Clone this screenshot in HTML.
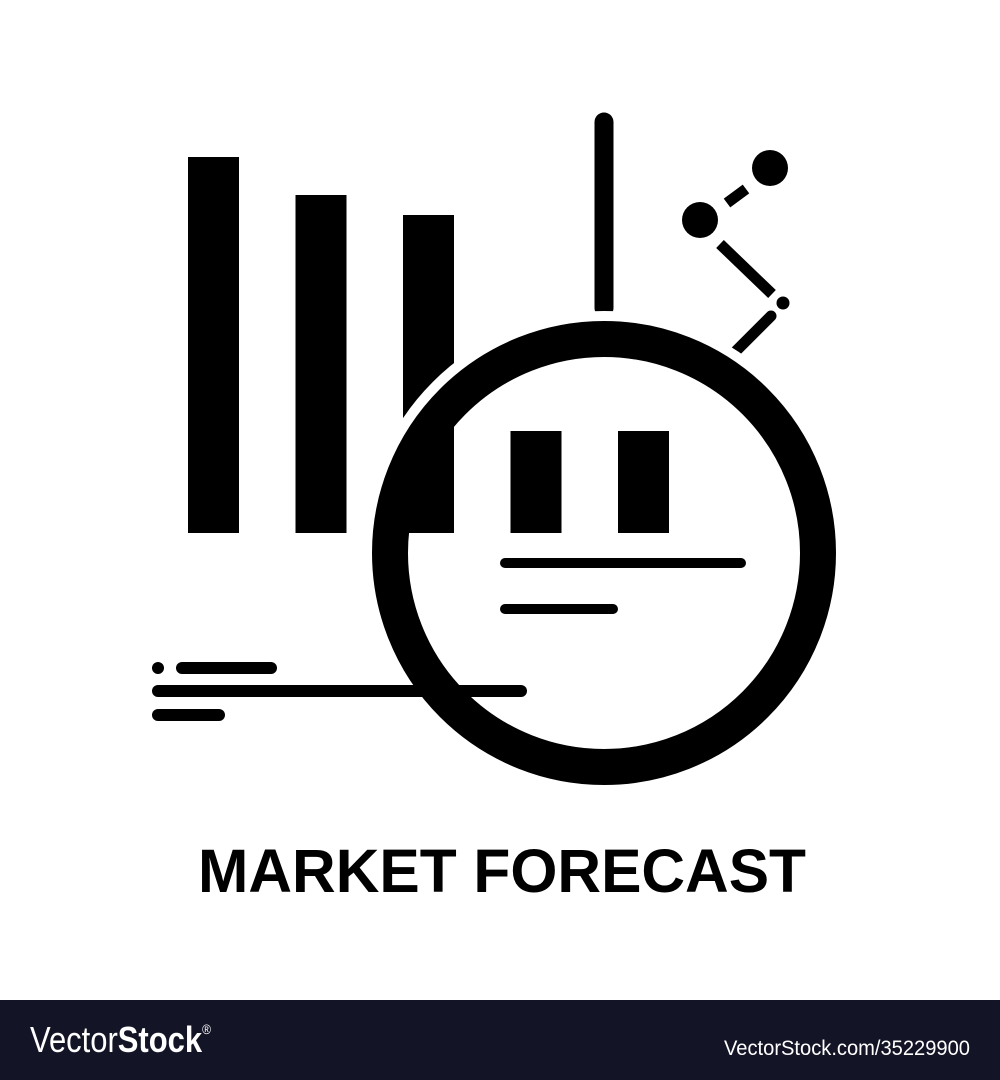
<!DOCTYPE html>
<html><head><meta charset="utf-8"><style>
html,body{margin:0;padding:0;background:#fff;width:1000px;height:1080px;overflow:hidden}
svg{display:block}
</style></head><body>
<svg id="chart" width="1000" height="1080" viewBox="0 0 1000 1080" xmlns="http://www.w3.org/2000/svg">
<defs><clipPath id="lensClip"><circle cx="604" cy="553" r="197"/></clipPath></defs>
<rect x="0" y="0" width="1000" height="1000" fill="#fff"/>
<g id="bars"></g>
<line x1="604" y1="122" x2="604" y2="308" stroke="#000" stroke-width="19" stroke-linecap="round"/>
<g>
<circle cx="770" cy="168" r="18" fill="#000"/>
<circle cx="700" cy="220" r="18" fill="#000"/>
<circle cx="783" cy="303" r="6.5" fill="#000"/>
<line x1="727" y1="203" x2="746" y2="189" stroke="#000" stroke-width="11"/>
<line x1="720" y1="244" x2="772" y2="294" stroke="#000" stroke-width="11"/>
<line x1="771" y1="316" x2="734" y2="353" stroke="#000" stroke-width="11" stroke-linecap="round"/>
</g>
<circle cx="604" cy="553" r="232" fill="none" stroke="#fff" stroke-width="20"/>
<circle cx="604" cy="553" r="197" fill="#fff"/>
<g id="innerbars" clip-path="url(#lensClip)"></g>
<circle cx="604" cy="553" r="214" fill="none" stroke="#000" stroke-width="36"/>
<line x1="505" y1="563" x2="741" y2="563" stroke="#000" stroke-width="10" stroke-linecap="round"/>
<line x1="505" y1="609" x2="613" y2="609" stroke="#000" stroke-width="10" stroke-linecap="round"/>
<g>
<circle cx="158" cy="668" r="6" fill="#000"/>
<line x1="182" y1="668" x2="271" y2="668" stroke="#000" stroke-width="12" stroke-linecap="round"/>
<line x1="158" y1="691" x2="521" y2="691" stroke="#000" stroke-width="12" stroke-linecap="round"/>
<line x1="158" y1="715" x2="219" y2="715" stroke="#000" stroke-width="12" stroke-linecap="round"/>
</g>
<text x="502" y="892" text-anchor="middle" font-family="Liberation Sans, sans-serif" font-weight="bold" font-size="61" textLength="608" lengthAdjust="spacingAndGlyphs" fill="#000">MARKET FORECAST</text>
<rect x="0" y="1000" width="1000" height="80" fill="#131426"/>
<text x="30" y="1052" font-family="Liberation Sans, sans-serif" font-size="36" fill="#fff" textLength="181" lengthAdjust="spacingAndGlyphs">Vector<tspan font-weight="bold">Stock</tspan><tspan font-size="14" dy="-18">®</tspan></text>
<text x="970" y="1055" text-anchor="end" font-family="Liberation Sans, sans-serif" font-size="21" fill="#fff" textLength="246" lengthAdjust="spacingAndGlyphs">VectorStock.com/35229900</text>
</svg>
<script>
const barCategories = ["bar-1","bar-2","bar-3"];
const barTops = [157,195,215];
const innerCategories = ["lens-bar-1","lens-bar-2"];
const innerTops = [431,431];
const NS="http://www.w3.org/2000/svg";
const baseY=533, x0=188, step=107.5, bw=51;
function xPos(i){return x0+i*step;}
const g=document.getElementById('bars');
barCategories.forEach((c,i)=>{
  const r=document.createElementNS(NS,'rect');
  r.setAttribute('x',xPos(i));r.setAttribute('y',barTops[i]);
  r.setAttribute('width',bw);r.setAttribute('height',baseY-barTops[i]);
  r.setAttribute('fill','#000');
  
  
  g.appendChild(r);
});
const g2=document.getElementById('innerbars');
const r3=document.createElementNS(NS,'rect');
r3.setAttribute('x',xPos(2));r3.setAttribute('y',barTops[2]);
r3.setAttribute('width',bw);r3.setAttribute('height',baseY-barTops[2]);
r3.setAttribute('fill','#000');


g2.appendChild(r3);
innerCategories.forEach((c,i)=>{
  const r=document.createElementNS(NS,'rect');
  r.setAttribute('x',xPos(i+3));r.setAttribute('y',innerTops[i]);
  r.setAttribute('width',bw);r.setAttribute('height',baseY-innerTops[i]);
  r.setAttribute('fill','#000');
  
  
  g2.appendChild(r);
});
</script>
</body></html>
